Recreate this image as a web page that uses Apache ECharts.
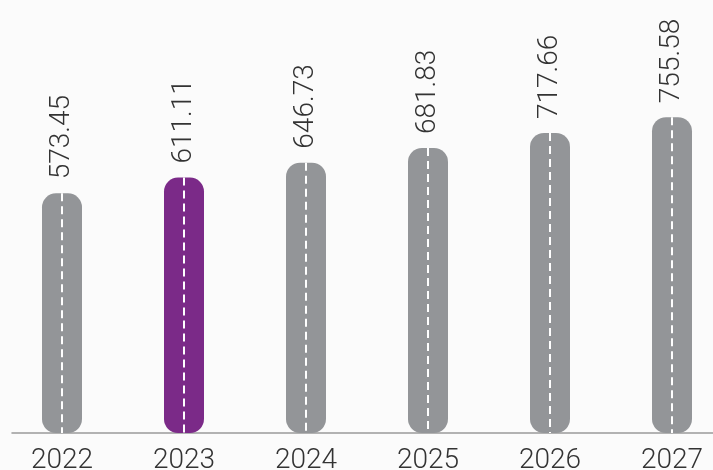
<!DOCTYPE html>
<html>
<head>
<meta charset="utf-8">
<script src="https://cdn.jsdelivr.net/npm/echarts@6/dist/echarts.min.js"></script>
<style>
html,body{margin:0;padding:0;background:#fbfbfb;}
#c{width:713px;height:470px;}
</style>
</head>
<body>
<div id="c"></div>
<script>
var categories = ['2022', '2023', '2024', '2025', '2026', '2027'];
var values = [573.45, 611.11, 646.73, 681.83, 717.66, 755.58];
var highlightIndex = 1;

var GRAY = '#939598';
var PURPLE = '#7b2a88';

var chart = echarts.init(document.getElementById('c'));
chart.setOption({
  backgroundColor: '#fbfbfb',
  animation: false,
  grid: [
    {left: 1, width: 732, top: 15, bottom: 37, outerBoundsMode: 'none', containLabel: false},
    {left: 12, right: 0, top: 432, bottom: 37, outerBoundsMode: 'none', containLabel: false}
  ],
  xAxis: [
    {
      type: 'category', data: categories, gridIndex: 0,
      axisLine: {show: false}, axisTick: {show: false},
      axisLabel: {fontSize: 28, fontWeight: 300, color: '#333', fontFamily: 'Roboto', margin: 14}
    },
    {
      type: 'value', gridIndex: 1, min: 0, max: 1,
      axisLine: {show: true, onZero: false, lineStyle: {color: '#9a9a9a', width: 1.5}},
      axisTick: {show: false}, axisLabel: {show: false}, splitLine: {show: false}
    }
  ],
  yAxis: [
    {type: 'value', gridIndex: 0, min: 0, max: 1000, show: false},
    {type: 'value', gridIndex: 1, show: false}
  ],
  series: [
    {
      type: 'bar', xAxisIndex: 0, yAxisIndex: 0,
      barWidth: 40,
      data: values.map(function (v, i) {
        return {value: v, itemStyle: {color: i === highlightIndex ? PURPLE : GRAY}};
      }),
      itemStyle: {borderRadius: 14},
      label: {
        show: true, position: 'top', rotate: 90, distance: 14,
        align: 'left', verticalAlign: 'middle',
        fontSize: 28, fontWeight: 300, color: '#333', fontFamily: 'Roboto',
        formatter: function (p) { return p.value.toFixed(2); }
      }
    },
    {
      type: 'custom', xAxisIndex: 0, yAxisIndex: 0,
      data: values.map(function (v, i) { return [i, v]; }),
      renderItem: function (params, api) {
        var top = api.coord([api.value(0), api.value(1)]);
        var bottom = api.coord([api.value(0), 0]);
        return {
          type: 'line',
          shape: {x1: top[0], y1: top[1], x2: bottom[0], y2: bottom[1]},
          style: {stroke: '#ffffff', lineWidth: 2, lineDash: [8, 5]}
        };
      },
      z: 5
    }
  ]
});
</script>
</body>
</html>
